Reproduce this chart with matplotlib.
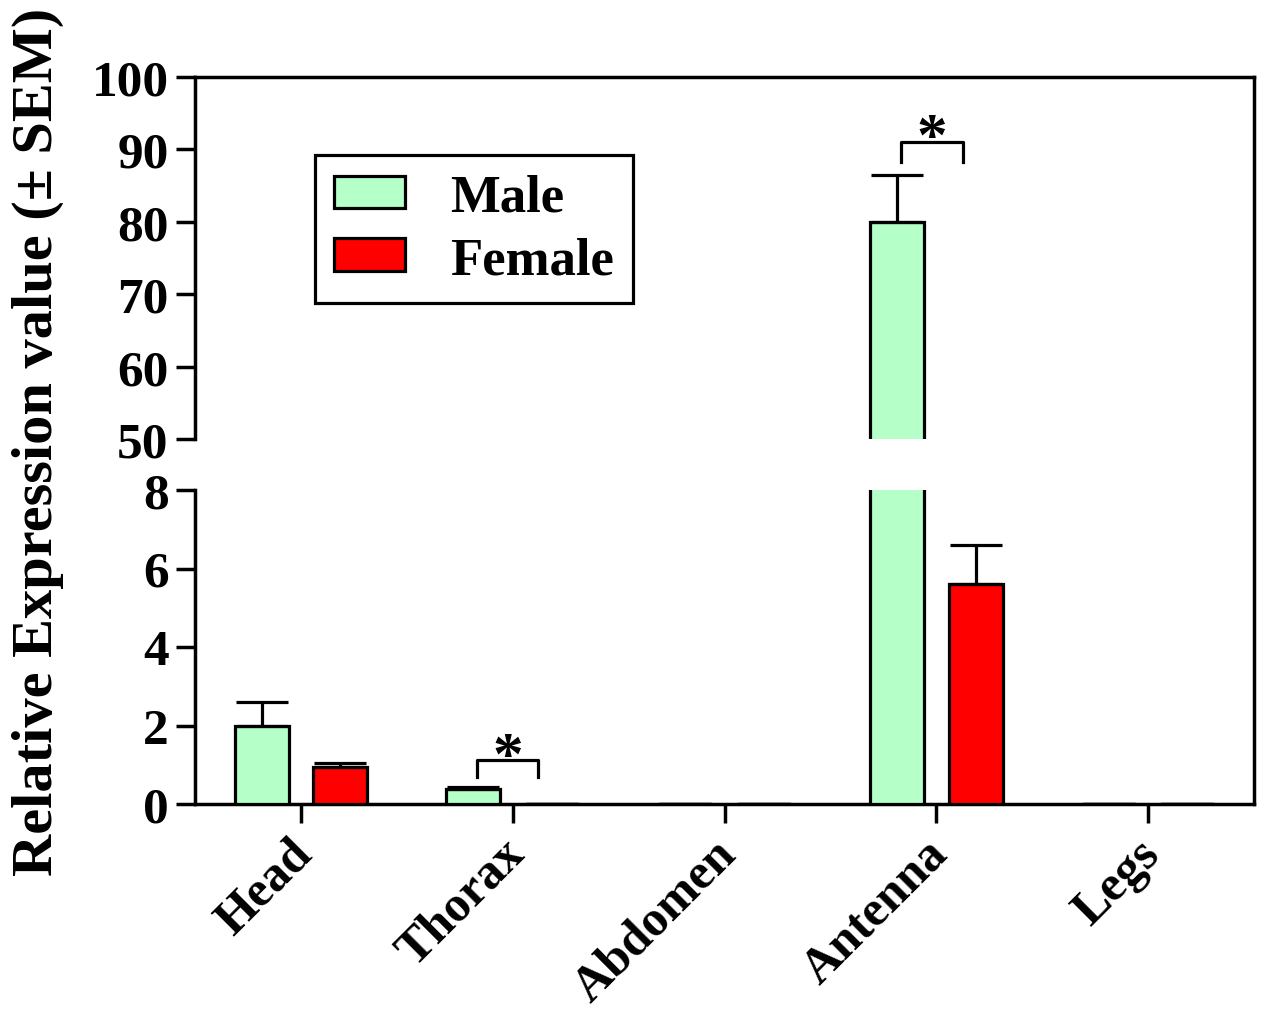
import matplotlib
matplotlib.use("Agg")
import matplotlib.pyplot as plt
import matplotlib.transforms as mtransforms
from matplotlib.patches import Patch
from matplotlib.lines import Line2D
import numpy as np

plt.rcParams['font.family'] = ['Liberation Serif', 'DejaVu Serif']
plt.rcParams['font.weight'] = 'bold'

# data
tissues = ["Head", "Thorax", "Abdomen", "Antenna", "Legs"]
male = [2.0, 0.38, 0.0, 80.0, 0.0]
male_err = [0.6, 0.05, 0.0, 6.5, 0.0]
female = [0.95, 0.0, 0.0, 5.6, 0.0]
female_err = [0.1, 0.0, 0.0, 1.0, 0.0]

male_col = "#B5FFC8"
female_col = "#FF0000"

fig = plt.figure(figsize=(12.61, 10.12), dpi=100)
L, W = 195 / 1261, (1254 - 195) / 1261
ax_top = fig.add_axes([L, 1 - 440 / 1012, W, (440 - 78) / 1012])
ax_bot = fig.add_axes([L, 1 - 805 / 1012, W, (805 - 491) / 1012])

x = np.arange(len(tissues))
off, bw = 0.186, 0.255
lw = 2.3

for ax in (ax_top, ax_bot):
    ax.bar(x - off, male, bw, color=male_col, edgecolor="black", linewidth=lw,
           yerr=[np.zeros(len(male)), male_err], capsize=19,
           error_kw=dict(elinewidth=lw, capthick=lw, ecolor="black"), zorder=3)
    ax.bar(x + off, female, bw, color=female_col, edgecolor="black", linewidth=lw,
           yerr=[np.zeros(len(female)), female_err], capsize=19,
           error_kw=dict(elinewidth=lw, capthick=lw, ecolor="black"), zorder=3)
    ax.set_xlim(-0.5, 4.5)
    ax.tick_params(axis="both", direction="out", length=14, width=2.5,
                   labelsize=37, pad=5)
    for s in ax.spines.values():
        s.set_linewidth(2.5)
    ax.spines["right"].set_visible(False)

ax_top.set_ylim(50, 100)
ax_top.set_yticks(range(50, 101, 10))
ax_top.spines["bottom"].set_visible(False)
ax_top.tick_params(axis="x", bottom=False, labelbottom=False)

ax_bot.set_ylim(0, 8)
ax_bot.set_yticks(range(0, 9, 2))
ax_bot.spines["top"].set_visible(False)
ax_bot.set_xticks(x)
ax_bot.set_xticklabels(tissues, rotation=45, ha="right", rotation_mode="anchor",
                       fontsize=36, fontweight="bold")
shift = mtransforms.ScaledTranslation(-12 / 100, 0, fig.dpi_scale_trans)
for lab in ax_bot.get_xticklabels():
    lab.set_transform(lab.get_transform() + shift)

# continuous right border
fig.add_artist(Line2D([L + W, L + W], [1 - 805 / 1012, 1 - 78 / 1012],
                      transform=fig.transFigure, color="black", linewidth=2.5))

# significance brackets
ax_bot.plot([0.83, 0.83, 1.12, 1.12], [0.69, 1.12, 1.12, 0.69], color="black", lw=2.3)
ax_bot.text(0.975, 0.8, "*", ha="center", va="baseline", fontsize=44)
ax_top.plot([2.835, 2.835, 3.125, 3.125], [88.3, 91.0, 91.0, 88.3], color="black", lw=2.3)
ax_top.text(2.98, 89.4, "*", ha="center", va="baseline", fontsize=44)

fig.text(38 / 1261, 1 - 442 / 1012, "Relative Expression value (± SEM)", rotation=90,
         ha="center", va="center", fontsize=42, fontweight="bold")

handles = [Patch(facecolor=male_col, edgecolor="black", linewidth=lw, label="Male"),
           Patch(facecolor=female_col, edgecolor="black", linewidth=lw, label="Female")]
leg = ax_top.legend(handles=handles, loc="upper left", bbox_to_anchor=(0.113, 0.785),
                    borderaxespad=0, fontsize=38, frameon=True, fancybox=False,
                    framealpha=1, edgecolor="black",
                    handlelength=1.36, handleheight=0.57, handletextpad=0.85,
                    borderpad=0.36, labelspacing=0.27)
leg.get_frame().set_linewidth(2.3)

fig.savefig("out.png", dpi=100)
